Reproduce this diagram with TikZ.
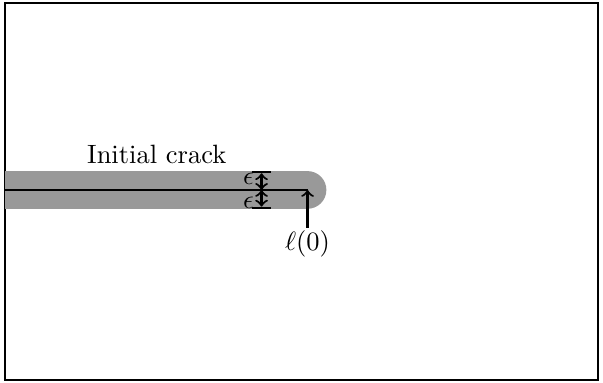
\documentclass[tikz,border=0pt]{standalone}
\usetikzlibrary{arrows,positioning}
\tikzstyle{band}=[fill=gray!80]
\tikzstyle{crack}=[semithick]
\tikzstyle{eps}=[<->|,thick,>=to]
\tikzstyle{lab}=[inner sep=1pt]

\begin{document}
\begin{tikzpicture}
\useasboundingbox (0,0) rectangle (8,5.08);
\draw [semithick] (0.07,0.04) rectangle (7.93,5.04);
\coordinate (L) at (0.07,2.56);
\coordinate (T) at (4.08,2.56);
\coordinate (E) at (3.47,2.56);
\coordinate (Eu) at (3.47,2.81);
\coordinate (Ed) at (3.47,2.31);
\fill [band] (0.07,2.31) rectangle (4.08,2.81);
\fill [band] (T) circle (0.25);
\draw [crack] (L) -- (T);
\node (ini) [lab] at (2.08,3.03) {Initial crack};
\draw [eps] (E) -- (Eu);
\draw [eps] (E) -- (Ed);
\node (e1) [lab, left=0.06cm of Eu, yshift=-0.1cm] {$\epsilon$};
\node (e2) [lab, left=0.06cm of Ed, yshift=0.08cm] {$\epsilon$};
\node (l0) [lab, below=0.5cm of T] {$\ell(0)$};
\draw [->,thick,>=to] (l0) -- (T);
\end{tikzpicture}
\end{document}
